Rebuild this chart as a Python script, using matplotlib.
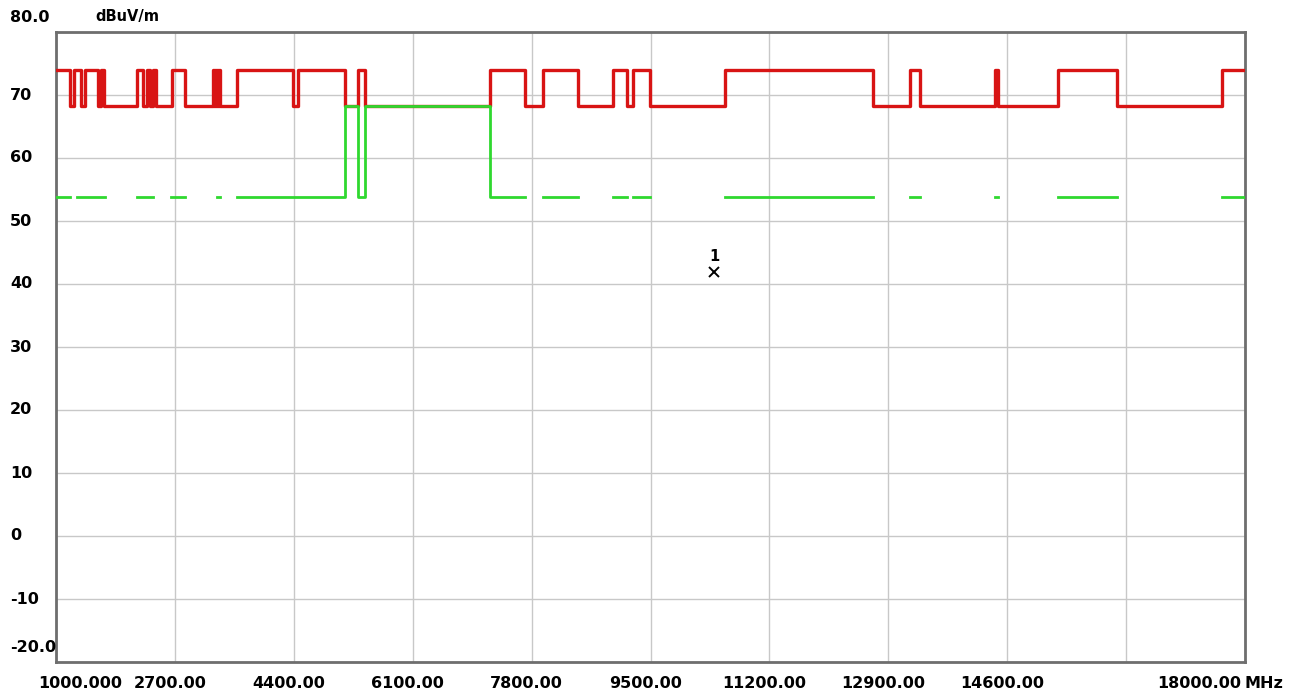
import numpy as np
import matplotlib.pyplot as plt

plt.rcParams['font.family'] = ['DejaVu Sans']

# red trace (step edges in MHz, level in dBuV/m)
red_freq = [1000, 1200, 1257, 1357, 1415, 1600, 1643, 1686, 2158, 2244, 2301, 2344,
            2387, 2430, 2659, 2845, 3245, 3259, 3273, 3288, 3302, 3316, 3330, 3345,
            3588, 4389, 4460, 5132, 5318, 5418, 7205, 7706, 7963, 8464, 8964, 9164,
            9250, 9493, 10566, 12682, 13211, 13354, 14426, 14469, 15327, 16171, 17672, 18000]
red_level = [74.0, 68.3, 74.0, 68.3, 74.0, 68.3, 74.0, 68.3, 74.0, 68.3, 74.0, 68.3,
             74.0, 68.3, 74.0, 68.3, 74.0, 68.3, 74.0, 68.3, 74.0, 68.3, 74.0, 68.3,
             74.0, 68.3, 74.0, 68.3, 74.0, 68.3, 74.0, 68.3, 74.0, 68.3, 74.0, 68.3,
             74.0, 68.3, 74.0, 68.3, 74.0, 68.3, 74.0, 68.3, 74.0, 68.3, 74.0, 74.0]

# green trace, nan = no trace shown
green_freq = [1000, 1200, 1300, 1700, 2158, 2387, 2645, 2845, 3302, 3345, 3588, 5132,
              5318, 5418, 7205, 7706, 7963, 8464, 8964, 9164, 9250, 9493, 10566, 12682,
              13211, 13354, 14426, 14469, 15327, 16171, 17672, 18000]
green_level = [53.8, np.nan, 53.8, np.nan, 53.8, np.nan, 53.8, np.nan, 53.8, np.nan, 53.8, 68.3,
               53.8, 68.3, 53.8, np.nan, 53.8, np.nan, 53.8, np.nan, 53.8, np.nan, 53.8, np.nan,
               53.8, np.nan, 53.8, np.nan, 53.8, np.nan, 53.8, 53.8]

marker_freq = 10408
marker_level = 41.9

xticks = [1000, 2700, 4400, 6100, 7800, 9500, 11200, 12900, 14600, 16300, 18000]
xlabels = ['1000.000', '2700.00', '4400.00', '6100.00', '7800.00', '9500.00',
           '11200.00', '12900.00', '14600.00', '', '18000.00']
yticks = [-20, -10, 0, 10, 20, 30, 40, 50, 60, 70, 80]
ylabels = ['-20.0', '-10', '0', '10', '20', '30', '40', '50', '60', '70', '80.0']

fs = 11.5

fig = plt.figure(figsize=(12.98, 6.96), dpi=100)
ax = fig.add_axes([56 / 1298, 1 - 662 / 696, (1245 - 56) / 1298, (662 - 32) / 696])

ax.step(red_freq, red_level, where='post', color='#d81414', lw=2.4, zorder=3)
ax.step(green_freq, green_level, where='post', color='#2fd82f', lw=2.0, zorder=4)

ax.plot(marker_freq, marker_level, marker='x', color='black', ms=7, mew=1.4, zorder=5)
ax.text(marker_freq, marker_level + 1.3, '1', ha='center', va='bottom',
        fontsize=10.5, fontweight='bold')

ax.set_xlim(1000, 18000)
ax.set_ylim(-20, 80)
ax.set_xticks(xticks)
ax.set_yticks(yticks)
ax.set_xticklabels([])
ax.set_yticklabels([])
ax.tick_params(length=0)
ax.grid(True, color='#c8c8c8', lw=1.0)
for s in ax.spines.values():
    s.set_color('#6e6e6e')
    s.set_linewidth(2)

# y labels on the left, end labels lifted above the frame corners
for v, lab in zip(yticks, ylabels):
    dy = 15 if v in (80, -20) else 0
    ax.annotate(lab, xy=(0, v), xycoords=('axes fraction', 'data'),
                xytext=(-46, dy), textcoords='offset pixels',
                ha='left', va='center', fontsize=fs, fontweight='bold')

for v, lab in zip(xticks, xlabels):
    if not lab:
        continue
    ha = 'center'
    dx = -5
    if v == 1000:
        ha, dx = 'left', -18
    if v == 18000:
        ha, dx = 'right', -4
    ax.annotate(lab, xy=(v, 0), xycoords=('data', 'axes fraction'),
                xytext=(dx, -21), textcoords='offset pixels',
                ha=ha, va='center', fontsize=fs, fontweight='bold')

ax.annotate('MHz', xy=(1, 0), xycoords='axes fraction', xytext=(0, -21),
            textcoords='offset pixels', ha='left', va='center',
            fontsize=fs, fontweight='bold')
ax.annotate('dBuV/m', xy=(0, 1), xycoords='axes fraction', xytext=(39, 15),
            textcoords='offset pixels', ha='left', va='center',
            fontsize=10.5, fontweight='bold')

fig.savefig('out.png', dpi=100, facecolor='white')
